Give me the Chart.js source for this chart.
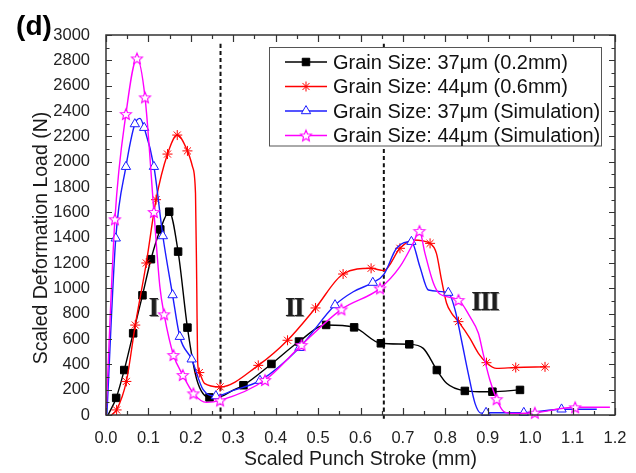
<!DOCTYPE html>
<html>
<head>
<meta charset="utf-8">
<script src="https://cdn.jsdelivr.net/npm/chart.js@4.4.1/dist/chart.umd.min.js"></script>
<style>
  html, body { margin: 0; padding: 0; background: #fff; }
  #wrap { position: relative; width: 636px; height: 473px; }
</style>
</head>
<body>
<div id="wrap"><canvas id="load-chart"></canvas></div>
<script>
// stroke (mm), load (N), and 1 where a symbol is drawn on the curve
var exp37Stroke = [0.005, 0.024, 0.043, 0.064, 0.086, 0.106, 0.128, 0.149, 0.170, 0.192, 0.214, 0.244, 0.270, 0.300, 0.324, 0.390, 0.455, 0.519, 0.585, 0.648, 0.715, 0.748, 0.780, 0.803, 0.846, 0.880, 0.911, 0.976];
var exp37Load   = [0, 135, 355, 645, 945, 1230, 1465, 1605, 1290, 690, 280, 139, 145, 197, 235, 403, 580, 711, 692, 566, 558, 526, 355, 250, 190, 184, 184, 198];
var exp37Mark   = [0, 1, 1, 1, 1, 1, 1, 1, 1, 1, 0, 1, 0, 0, 1, 1, 1, 1, 1, 1, 1, 0, 1, 0, 1, 0, 1, 1];

var exp44Stroke = [0.013, 0.025, 0.048, 0.069, 0.095, 0.118, 0.145, 0.168, 0.192, 0.204, 0.211, 0.214, 0.216, 0.220, 0.232, 0.269, 0.359, 0.428, 0.494, 0.559, 0.625, 0.655, 0.693, 0.724, 0.764, 0.779, 0.791, 0.803, 0.815, 0.831, 0.858, 0.878, 0.897, 0.921, 0.966, 1.035];
var exp44Load   = [0, 40, 265, 710, 1200, 1700, 2060, 2210, 2085, 1960, 1750, 1000, 420, 335, 250, 222, 392, 590, 845, 1113, 1158, 1140, 1316, 1382, 1355, 1276, 1066, 882, 803, 737, 605, 487, 413, 368, 375, 380];
var exp44Mark   = [0, 1, 1, 1, 1, 1, 1, 1, 1, 0, 0, 0, 0, 1, 0, 1, 1, 1, 1, 1, 1, 0, 1, 0, 1, 0, 0, 0, 0, 1, 0, 0, 1, 0, 1, 1];

var sim37Stroke = [0.002, 0.023, 0.047, 0.068, 0.080, 0.090, 0.113, 0.134, 0.157, 0.174, 0.202, 0.229, 0.259, 0.300, 0.363, 0.456, 0.540, 0.583, 0.629, 0.655, 0.685, 0.720, 0.740, 0.760, 0.807, 0.823, 0.838, 0.854, 0.870, 0.884, 0.896, 0.985, 1.074, 1.157];
var sim37Load   = [0, 1395, 1960, 2297, 2342, 2268, 1960, 1413, 947, 618, 440, 200, 150, 195, 271, 531, 868, 973, 1045, 1110, 1316, 1368, 1171, 987, 966, 829, 592, 329, 92, 15, 18, 18, 45, 45];
var sim37Mark   = [0, 1, 1, 1, 0, 1, 1, 1, 1, 1, 1, 0, 1, 0, 1, 1, 1, 0, 1, 0, 0, 1, 0, 0, 1, 0, 0, 0, 0, 0, 1, 1, 1, 0];

var sim44Stroke = [0.000, 0.021, 0.047, 0.073, 0.092, 0.113, 0.127, 0.137, 0.159, 0.181, 0.206, 0.237, 0.269, 0.375, 0.461, 0.555, 0.646, 0.693, 0.724, 0.739, 0.752, 0.772, 0.787, 0.831, 0.858, 0.878, 0.889, 0.905, 0.921, 0.937, 0.960, 1.011, 1.106, 1.188];
var sim44Load   = [0, 1545, 2376, 2815, 2508, 1603, 1013, 795, 474, 316, 171, 100, 115, 276, 553, 834, 1000, 1171, 1355, 1453, 1276, 1040, 955, 908, 776, 645, 487, 276, 125, 30, 12, 18, 61, 61];
var sim44Mark   = [0, 1, 1, 1, 1, 1, 0, 1, 1, 1, 1, 0, 1, 1, 1, 1, 1, 0, 0, 1, 0, 0, 0, 1, 0, 0, 0, 0, 1, 0, 0, 1, 1, 0];

// stage boundaries and stage labels
var dividerStroke = [0.27, 0.655];
var dividerLoad = [-30, 2940];
var stageNames = ['I', 'II', 'III'];
var stageStroke = [0.111, 0.443, 0.893];
var stageLoad = [842, 842, 894];

var xTickValues = [0, 0.1, 0.2, 0.3, 0.4, 0.5, 0.6, 0.7, 0.8, 0.9, 1.0, 1.1, 1.2];
var yTickValues = [0, 200, 400, 600, 800, 1000, 1200, 1400, 1600, 1800, 2000, 2200, 2400, 2600, 2800, 3000];

var FONT = "'Liberation Sans', Arial, sans-serif";

// open five-point star used for the 44um simulation curve
function starImage(color, r) {
  var c = document.createElement('canvas');
  var s = Math.ceil(r * 2 + 4);
  c.width = s; c.height = s;
  var g = c.getContext('2d');
  g.beginPath();
  for (var k = 0; k < 10; k++) {
    var rr = k % 2 ? r * 0.45 : r;
    var a = -Math.PI / 2 + k * Math.PI / 5;
    var px = s / 2 + rr * Math.cos(a), py = s / 2 + 0.6 + rr * Math.sin(a);
    if (k) g.lineTo(px, py); else g.moveTo(px, py);
  }
  g.closePath();
  g.fillStyle = '#fff';
  g.fill();
  g.strokeStyle = color;
  g.lineWidth = 1.1;
  g.stroke();
  return c;
}

var magentaStar = starImage('#ff00ff', 5.8);

function series(label, xs, ys, marks, color, style, radius, fill, order) {
  return {
    label: label,
    data: xs.map(function (x, i) { return { x: x, y: ys[i] }; }),
    borderColor: color,
    borderWidth: 1.4,
    backgroundColor: fill,
    pointStyle: style,
    pointRadius: marks.map(function (m) { return m ? radius : 0; }),
    pointHoverRadius: 0,
    pointBorderColor: color,
    pointBackgroundColor: fill,
    pointBorderWidth: 1,
    cubicInterpolationMode: 'monotone',
    clip: false,
    fill: false,
    order: order
  };
}

function divider(x) {
  return {
    label: '',
    data: [{ x: x, y: dividerLoad[0] }, { x: x, y: dividerLoad[1] }],
    borderColor: '#111',
    borderWidth: 2,
    borderDash: [4, 3],
    pointRadius: 0,
    clip: false,
    fill: false,
    order: 10
  };
}

var datasets = [
  series('Grain Size: 37μm (0.2mm)', exp37Stroke, exp37Load, exp37Mark, '#000000', 'rect', 5.3, '#000000', 3),
  series('Grain Size: 44μm (0.6mm)', exp44Stroke, exp44Load, exp44Mark, '#ff0000', 'star', 5, '#ff0000', 2),
  series('Grain Size: 37μm (Simulation)', sim37Stroke, sim37Load, sim37Mark, '#1c1cff', 'triangle', 5.4, '#ffffff', 1),
  series('Grain Size: 44μm (Simulation)', sim44Stroke, sim44Load, sim44Mark, '#ff00ff', magentaStar, 6, '#ffffff', 0),
  divider(dividerStroke[0]),
  divider(dividerStroke[1])
];

// box frame with inward major/minor ticks on all four sides
var frameTicks = {
  id: 'frameTicks',
  afterDatasetsDraw: function (chart) {
    var ctx = chart.ctx, a = chart.chartArea;
    var xs = chart.scales.x, ys = chart.scales.y;
    ctx.save();
    ctx.strokeStyle = '#333';
    ctx.lineWidth = 1.5;
    ctx.strokeRect(a.left, a.top, a.right - a.left, a.bottom - a.top);
    ctx.lineWidth = 1.2;
    ctx.beginPath();
    for (var i = 0; i < xTickValues.length; i++) {
      var vals = [[xTickValues[i], 7]];
      if (i < xTickValues.length - 1) vals.push([(xTickValues[i] + xTickValues[i + 1]) / 2, 4]);
      vals.forEach(function (t) {
        var px = Math.round(xs.getPixelForValue(t[0])) + 0.5;
        ctx.moveTo(px, a.bottom); ctx.lineTo(px, a.bottom - t[1]);
        ctx.moveTo(px, a.top); ctx.lineTo(px, a.top + t[1]);
      });
    }
    for (var j = 0; j < yTickValues.length; j++) {
      var yv = [[yTickValues[j], 6]];
      if (j < yTickValues.length - 1) yv.push([(yTickValues[j] + yTickValues[j + 1]) / 2, 3.5]);
      yv.forEach(function (t) {
        var py = Math.round(ys.getPixelForValue(t[0])) + 0.5;
        ctx.moveTo(a.left, py); ctx.lineTo(a.left + t[1], py);
        ctx.moveTo(a.right, py); ctx.lineTo(a.right - t[1], py);
      });
    }
    ctx.stroke();
    ctx.restore();
  }
};

// stage numerals, axis titles, panel letter and the boxed legend
var annotations = {
  id: 'annotations',
  afterDraw: function (chart) {
    var ctx = chart.ctx, a = chart.chartArea;
    var xs = chart.scales.x, ys = chart.scales.y;
    ctx.save();

    // bold serif numerals with their serifs running together
    ctx.font = "bold 27px 'Liberation Serif', 'DejaVu Serif', serif";
    ctx.textAlign = 'center';
    ctx.textBaseline = 'middle';
    ctx.letterSpacing = '-1.5px';
    stageNames.forEach(function (s, i) {
      var px = xs.getPixelForValue(stageStroke[i]), py = ys.getPixelForValue(stageLoad[i]) + 1;
      ctx.fillStyle = '#8a8a8a';
      ctx.fillText(s, px + 0.8, py + 0.8);
      ctx.fillStyle = '#1e1e1e';
      ctx.fillText(s, px, py);
    });
    ctx.letterSpacing = '0px';

    ctx.fillStyle = '#1a1a1a';
    ctx.font = '19.5px ' + FONT;
    ctx.fillText('Scaled Punch Stroke (mm)', (a.left + a.right) / 2, 460);
    ctx.save();
    ctx.translate(42, 238);
    ctx.rotate(-Math.PI / 2);
    ctx.fillText('Scaled Deformation Load (N)', 0, 0);
    ctx.restore();

    ctx.fillStyle = '#000';
    ctx.font = 'bold 28px ' + FONT;
    ctx.fillText('(d)', 34, 27);

    // legend
    var bx = 269.5, by = 47.5, bw = 332, bh = 98.5;
    ctx.fillStyle = '#fff';
    ctx.fillRect(bx, by, bw, bh);
    ctx.strokeStyle = '#555';
    ctx.lineWidth = 1;
    ctx.strokeRect(bx, by, bw, bh);
    var rows = [62, 86.5, 111, 135.5];
    var draw = Chart.helpers && Chart.helpers.drawPoint;
    chart.data.datasets.slice(0, 4).forEach(function (ds, i) {
      var y = rows[i];
      ctx.strokeStyle = ds.borderColor;
      ctx.lineWidth = 1.4;
      ctx.setLineDash([]);
      ctx.beginPath();
      ctx.moveTo(285, y); ctx.lineTo(327, y);
      ctx.stroke();
      ctx.fillStyle = ds.pointBackgroundColor;
      ctx.strokeStyle = ds.pointBorderColor;
      ctx.lineWidth = 1;
      var r = Math.max.apply(null, ds.pointRadius);
      if (draw) {
        draw(ctx, { pointStyle: ds.pointStyle, radius: r, rotation: 0, borderWidth: 1 }, 306, y);
      }
      ctx.fillStyle = '#111';
      ctx.font = '20px ' + FONT;
      ctx.textAlign = 'left';
      ctx.textBaseline = 'middle';
      ctx.fillText(ds.label, 333, y + 1);
    });
    ctx.restore();
  }
};

var ctx = document.getElementById('load-chart');

var chart = new Chart(ctx, {
  type: 'line',
  data: { datasets: datasets },
  options: {
    responsive: true,
    maintainAspectRatio: false,
    animation: false,
    layout: { padding: { top: 35, right: 21, left: 0, bottom: 0 } },
    plugins: { legend: { display: false }, tooltip: { enabled: false } },
    elements: { line: { tension: 0.4 } },
    scales: {
      x: {
        type: 'linear',
        min: 0,
        max: 1.2,
        grid: { display: false },
        border: { display: false },
        afterBuildTicks: function (scale) {
          scale.ticks = xTickValues.map(function (v) { return { value: v }; });
        },
        afterFit: function (scale) { scale.height = 58; },
        ticks: {
          padding: 6,
          color: '#222',
          font: { family: FONT, size: 16.5 },
          maxRotation: 0,
          callback: function (v) { return v.toFixed(1); }
        }
      },
      y: {
        type: 'linear',
        min: 0,
        max: 3000,
        grid: { display: false },
        border: { display: false },
        afterBuildTicks: function (scale) {
          scale.ticks = yTickValues.map(function (v) { return { value: v }; });
        },
        afterFit: function (scale) { scale.width = 106; },
        ticks: {
          padding: 8,
          color: '#222',
          font: { family: FONT, size: 16.5 },
          callback: function (v) { return String(v); }
        }
      }
    }
  },
  plugins: [frameTicks, annotations]
});
</script>
</body>
</html>
